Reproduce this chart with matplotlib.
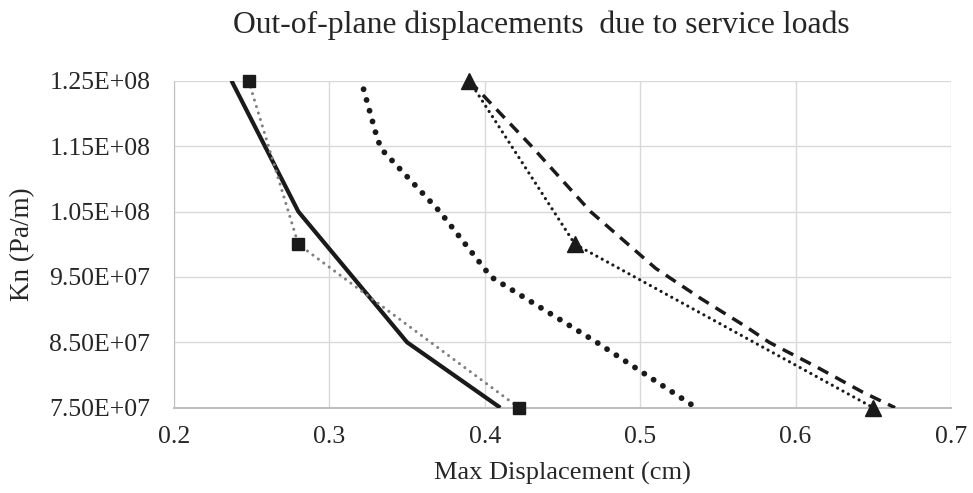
import matplotlib
matplotlib.use("Agg")
import matplotlib.pyplot as plt

# Kn values (Pa/m) and max displacement (cm) for each curve
kn_solid = [1.25e8, 1.05e8, 8.5e7, 7.5e7]
disp_solid = [0.237, 0.28, 0.35, 0.41]

kn_square = [1.25e8, 1.0e8, 7.5e7]
disp_square = [0.248, 0.28, 0.422]

kn_rounddot = [1.237e8, 1.16e8, 1.144e8, 1.05e8, 9.5e7, 8.5e7, 7.5e7]
disp_rounddot = [0.322, 0.331, 0.334, 0.371, 0.404, 0.472, 0.536]

kn_dashed = [1.25e8, 1.15e8, 1.05e8, 9.63e7, 9.17e7, 8.74e7, 8.5e7, 8.13e7, 7.74e7, 7.5e7]
disp_dashed = [0.39, 0.43, 0.468, 0.51, 0.539, 0.568, 0.583, 0.613, 0.643, 0.664]

kn_triangle = [1.25e8, 1.0e8, 7.5e7]
disp_triangle = [0.39, 0.458, 0.65]

x_ticks = [0.2, 0.3, 0.4, 0.5, 0.6, 0.7]
y_ticks = [7.5e7, 8.5e7, 9.5e7, 1.05e8, 1.15e8, 1.25e8]
y_labels = ["7.50E+07", "8.50E+07", "9.50E+07", "1.05E+08", "1.15E+08", "1.25E+08"]

plt.rcParams['font.family'] = ['Liberation Serif', 'DejaVu Serif']
txt = '#262626'

fig = plt.figure(figsize=(9.73, 4.93), dpi=100)
ax = fig.add_axes([0.1788, 0.1730, 0.9774 - 0.1788, 0.8363 - 0.1730])

ax.plot(disp_solid, kn_solid, color='#1a1a1a', lw=3.0, solid_capstyle='butt', zorder=3)
ax.plot(disp_square, kn_square, color='#7f7f7f', lw=2.2, linestyle=(0, (0.01, 2.2)),
        dash_capstyle='round', marker='s', markersize=9, markerfacecolor='#1a1a1a',
        markeredgecolor='#1a1a1a', zorder=4, clip_on=False)
ax.plot(disp_rounddot, kn_rounddot, color='#1a1a1a', lw=4.2, linestyle=(0, (0.01, 1.9)),
        dash_capstyle='round', zorder=3)
ax.plot(disp_dashed, kn_dashed, color='#1a1a1a', lw=2.5, linestyle=(0, (3.4, 2.3)), zorder=3)
ax.plot(disp_triangle, kn_triangle, color='#1a1a1a', lw=2.3, linestyle=(0, (0.01, 1.9)),
        dash_capstyle='round', marker='^', markersize=12, markerfacecolor='#1a1a1a',
        markeredgecolor='#1a1a1a', zorder=4, clip_on=False)

ax.set_xlim(0.2, 0.7)
ax.set_ylim(7.5e7, 1.25e8)
ax.set_xticks(x_ticks)
ax.set_xticklabels([f"{v:g}" for v in x_ticks])
ax.set_yticks(y_ticks)
ax.set_yticklabels(y_labels)
ax.tick_params(axis='y', length=0, labelsize=18.5, colors=txt, pad=17)
ax.tick_params(axis='x', length=0, labelsize=18.5, colors=txt, pad=13)

ax.grid(True, color='#d9d9d9', lw=1.0)
ax.set_axisbelow(True)
for side in ['top', 'right']:
    ax.spines[side].set_visible(False)
ax.spines['left'].set_color('#bfbfbf')
ax.spines['bottom'].set_color('#bfbfbf')
ax.spines['bottom'].set_linewidth(1.5)

ax.set_xlabel("Max Displacement (cm)", fontsize=19, color=txt, labelpad=10)
ax.set_ylabel("Kn (Pa/m)", fontsize=19.5, color=txt, labelpad=10)
fig.text(541 / 973, 1 - 25 / 493, "Out-of-plane displacements  due to service loads",
         fontsize=22.8, color=txt, ha='center', va='center')

fig.savefig("out.png", dpi=100)
